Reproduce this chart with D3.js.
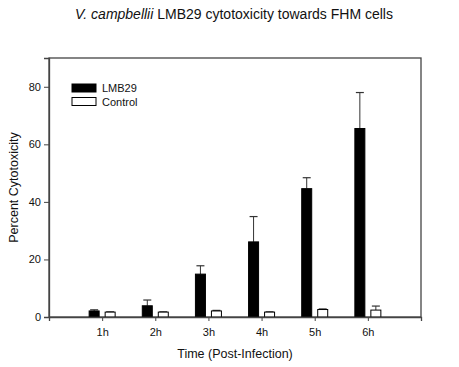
<!DOCTYPE html>
<html><head><meta charset="utf-8">
<script src="https://cdn.jsdelivr.net/npm/d3@7/dist/d3.min.js"></script>
<style>body{margin:0;background:#fff;} svg{display:block;font-family:Arial,"Liberation Sans",sans-serif;}</style>
</head><body>
<script>
const categories = ["1h","2h","3h","4h","5h","6h"];
const lmb29 = [2.1, 3.9, 14.9, 26.1, 44.6, 65.5];
const lmb29Err = [0.4, 2.0, 2.9, 8.8, 3.8, 12.5];
const control = [1.7, 1.7, 2.1, 1.7, 2.6, 2.4];
const controlErr = [0.1, 0.1, 0.2, 0.1, 0.2, 1.4];
const yTicks = [0, 20, 40, 60, 80];

const W = 459, H = 367;
const m = {left: 49, right: 38, top: 58, bottom: 50};
const svg = d3.select("body").append("svg").attr("width", W).attr("height", H);
const iw = W - m.left - m.right, ih = H - m.top - m.bottom;
const g = svg.append("g").attr("transform", `translate(${m.left},${m.top})`);

const x = d3.scaleLinear().domain([0, categories.length + 1]).range([0, iw]);
const y = d3.scaleLinear().domain([0, 90]).range([ih, 0]);
const axisColor = "#444";

// frame
g.append("rect").attr("x", 0).attr("y", 0).attr("width", iw).attr("height", ih)
  .attr("fill", "none").attr("stroke", axisColor).attr("stroke-width", 1.3);

const bw = 10, off = 3;
function drawSeries(vals, errs, fill, side) {
  const bx = i => side < 0 ? x(i + 1) - off - bw : x(i + 1) + off;
  g.selectAll(null).data(vals).enter().append("line")
    .attr("x1", (d, i) => bx(i) + bw / 2).attr("x2", (d, i) => bx(i) + bw / 2)
    .attr("y1", d => y(d)).attr("y2", (d, i) => y(d + errs[i]))
    .attr("stroke", "#333").attr("stroke-width", 1);
  g.selectAll(null).data(vals).enter().append("line")
    .attr("x1", (d, i) => bx(i) + bw / 2 - 4).attr("x2", (d, i) => bx(i) + bw / 2 + 4)
    .attr("y1", (d, i) => y(d + errs[i])).attr("y2", (d, i) => y(d + errs[i]))
    .attr("stroke", "#333").attr("stroke-width", 1.2);
  g.selectAll(null).data(vals).enter().append("rect")
    .attr("x", (d, i) => bx(i)).attr("width", bw)
    .attr("y", d => y(d)).attr("height", d => ih - y(d))
    .attr("fill", fill).attr("stroke", "#000").attr("stroke-width", 1);
}
drawSeries(lmb29, lmb29Err, "#000", -1);
drawSeries(control, controlErr, "#fff", 1);

// y axis
const ya = g.append("g").call(d3.axisLeft(y).tickValues(yTicks).tickSize(5).tickPadding(3));
ya.select(".domain").attr("stroke", axisColor).attr("stroke-width", 1.3);
ya.selectAll(".tick line").attr("stroke", axisColor);
ya.selectAll("text").attr("font-size", 11).attr("fill", "#111").attr("font-family", "Arial, Liberation Sans, sans-serif");

// x axis
const xa = g.append("g").attr("transform", `translate(0,${ih})`)
  .call(d3.axisBottom(x).tickValues(d3.range(1, categories.length + 1))
    .tickFormat(d => categories[d - 1]).tickSize(4).tickPadding(7));
xa.select(".domain").attr("stroke", axisColor).attr("stroke-width", 1.3);
xa.selectAll(".tick line").attr("stroke", axisColor);
xa.selectAll("text").attr("font-size", 11).attr("fill", "#111").attr("font-family", "Arial, Liberation Sans, sans-serif");

// titles
const title = svg.append("text").attr("x", 234).attr("y", 19).attr("text-anchor", "middle")
  .attr("font-size", 14).attr("fill", "#111");
title.append("tspan").attr("font-style", "italic").text("V. campbellii");
title.append("tspan").text(" LMB29 cytotoxicity towards FHM cells");

svg.append("text").attr("x", m.left + iw / 2).attr("y", 358).attr("text-anchor", "middle")
  .attr("font-size", 12.5).attr("fill", "#111").text("Time (Post-Infection)");
svg.append("text").attr("transform", `translate(18,${m.top + ih / 2}) rotate(-90)`)
  .attr("text-anchor", "middle").attr("font-size", 12.5).attr("fill", "#111").text("Percent Cytotoxicity");

// legend
const legend = [{name: "LMB29", fill: "#000"}, {name: "Control", fill: "#fff"}];
const lg = svg.append("g").attr("transform", "translate(72,84)");
legend.forEach((d, i) => {
  lg.append("rect").attr("x", 0).attr("y", i * 13.5).attr("width", 24).attr("height", 8)
    .attr("fill", d.fill).attr("stroke", "#000").attr("stroke-width", 1);
  lg.append("text").attr("x", 30).attr("y", i * 13.5 + 8).attr("font-size", 11)
    .attr("fill", "#111").text(d.name);
});
</script>
</body></html>
